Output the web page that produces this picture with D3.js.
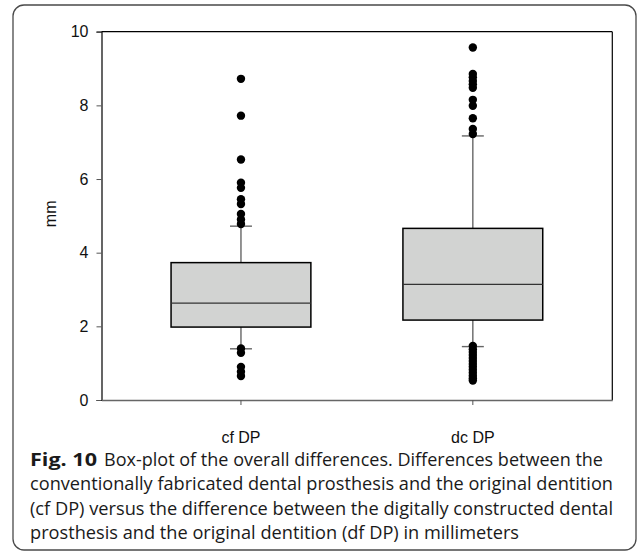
<!DOCTYPE html>
<html>
<head>
<meta charset="utf-8">
<script src="https://cdn.jsdelivr.net/npm/d3@7"></script>
<style>
  html, body { margin: 0; padding: 0; background: #fff; }
  svg { display: block; }
</style>
</head>
<body>
<svg id="chart" width="637" height="553"></svg>
<script>
// ---- data ----
const categories = ["cf DP", "dc DP"];
const q1Values = [1.98, 2.17];
const medianValues = [2.63, 3.14];
const q3Values = [3.73, 4.66];
const whiskerLow = [1.39, 1.45];
const whiskerHigh = [4.72, 7.17];
const outliersCf = [8.72, 7.72, 6.53, 5.9, 5.76, 5.45, 5.32, 5.05, 4.9, 4.78,
                    1.4, 1.28, 0.9, 0.77, 0.65];
const outliersDc = [9.57, 8.85, 8.76, 8.66, 8.57, 8.48, 8.15, 7.99, 7.65, 7.36, 7.22,
                    1.47, 1.38, 1.3, 1.22, 1.14, 1.06, 0.98, 0.9, 0.82, 0.74, 0.66, 0.59, 0.53];
const outliers = [outliersCf, outliersDc];
const yTicks = [0, 2, 4, 6, 8, 10];
const yLabel = "mm";
const captionBold = "Fig. 10";
const captionLines = [
  "Box-plot of the overall differences. Differences between the",
  "conventionally fabricated dental prosthesis and the original dentition",
  "(cf DP) versus the difference between the digitally constructed dental",
  "prosthesis and the original dentition (df DP) in millimeters"
];

(function () {
// ---- layout ----
const svg = d3.select("#chart");
const pLeft = 101.5, pRight = 612.3, pTop = 31.7, pBottom = 400;

// outer rounded border
svg.append("rect")
  .attr("x", 13).attr("y", 5)
  .attr("width", 623).attr("height", 545)
  .attr("rx", 11).attr("ry", 11)
  .attr("fill", "none").attr("stroke", "#4a4a4a").attr("stroke-width", 1.3);

const x = d3.scaleBand().domain(categories).range([pLeft, pRight])
  .paddingInner(0.397).paddingOuter(0.30);
const y = d3.scaleLinear().domain([0, 10]).range([pBottom, pTop]);

const g = svg.append("g");

// frame top & right
g.append("line").attr("x1", pLeft).attr("x2", pRight).attr("y1", pTop).attr("y2", pTop)
  .attr("stroke", "#000").attr("stroke-width", 1.2);
g.append("line").attr("x1", pRight).attr("x2", pRight).attr("y1", pTop).attr("y2", pBottom)
  .attr("stroke", "#000").attr("stroke-width", 1.2);

// y axis
const yAxis = g.append("g").attr("transform", `translate(${pLeft},0)`)
  .call(d3.axisLeft(y).tickValues(yTicks).tickSize(5).tickPadding(8).tickFormat(d3.format("d")));
yAxis.select(".domain").attr("stroke", "#000").attr("stroke-width", 1.2);
yAxis.selectAll(".tick line").attr("stroke", "#555").attr("stroke-width", 1);
yAxis.selectAll("text").attr("font-family", "'Liberation Sans', Arial, sans-serif")
  .attr("font-size", 16).attr("fill", "#111");

// x axis
const xAxis = g.append("g").attr("transform", `translate(0,${pBottom})`)
  .call(d3.axisBottom(x).tickSize(5).tickPadding(27).tickSizeOuter(0));
xAxis.select(".domain").attr("stroke", "#666").attr("stroke-width", 1.4);
xAxis.selectAll(".tick line").attr("stroke", "#555").attr("stroke-width", 1);
xAxis.selectAll("text").attr("font-family", "'Liberation Sans', Arial, sans-serif")
  .attr("font-size", 16).attr("fill", "#111");

// y label
g.append("text")
  .attr("transform", `translate(56,${(pTop + pBottom) / 2 - 2}) rotate(-90)`)
  .attr("text-anchor", "middle")
  .attr("font-family", "'Liberation Sans', Arial, sans-serif")
  .attr("font-size", 16).attr("fill", "#111")
  .text(yLabel);

// boxes
const bw = x.bandwidth();
categories.forEach((c, i) => {
  const cx = x(c) + bw / 2;
  const capW = 22;
  g.append("line").attr("x1", cx).attr("x2", cx)
    .attr("y1", y(q3Values[i])).attr("y2", y(whiskerHigh[i]))
    .attr("stroke", "#666").attr("stroke-width", 1.4);
  g.append("line").attr("x1", cx).attr("x2", cx)
    .attr("y1", y(q1Values[i])).attr("y2", y(whiskerLow[i]))
    .attr("stroke", "#666").attr("stroke-width", 1.4);
  g.append("line").attr("x1", cx - capW / 2).attr("x2", cx + capW / 2)
    .attr("y1", y(whiskerHigh[i])).attr("y2", y(whiskerHigh[i]))
    .attr("stroke", "#666").attr("stroke-width", 1.4);
  g.append("line").attr("x1", cx - capW / 2).attr("x2", cx + capW / 2)
    .attr("y1", y(whiskerLow[i])).attr("y2", y(whiskerLow[i]))
    .attr("stroke", "#666").attr("stroke-width", 1.4);
  g.append("rect").attr("x", x(c)).attr("width", bw)
    .attr("y", y(q3Values[i])).attr("height", y(q1Values[i]) - y(q3Values[i]))
    .attr("fill", "#d2d3d2").attr("stroke", "#000").attr("stroke-width", 1.5);
  g.append("line").attr("x1", x(c)).attr("x2", x(c) + bw)
    .attr("y1", y(medianValues[i])).attr("y2", y(medianValues[i]))
    .attr("stroke", "#333").attr("stroke-width", 1.2);
  g.selectAll(null).data(outliers[i]).enter().append("circle")
    .attr("cx", cx).attr("cy", d => y(d)).attr("r", 4.2).attr("fill", "#000");
});

// caption
const capFont = "'Open Sans', 'Noto Sans', sans-serif";
const capX = 30, capY0 = 466, capDy = 24.3;
const lineWidths = [573, 583, 583, 489];
captionLines.forEach((line, i) => {
  const t = svg.append("text")
    .attr("x", capX).attr("y", capY0 + i * capDy)
    .attr("font-family", capFont).attr("font-size", 18).attr("fill", "#1a1a1a");
  if (i === 0) {
    t.append("tspan").attr("font-weight", "bold").attr("textLength", 67)
      .attr("lengthAdjust", "spacingAndGlyphs").text(captionBold);
    t.append("tspan").attr("x", capX + 74).attr("textLength", lineWidths[i] - 74)
      .attr("lengthAdjust", "spacingAndGlyphs").text(line);
  } else {
    t.attr("textLength", lineWidths[i]).attr("lengthAdjust", "spacingAndGlyphs").text(line);
  }
});
})();
</script>
</body>
</html>
